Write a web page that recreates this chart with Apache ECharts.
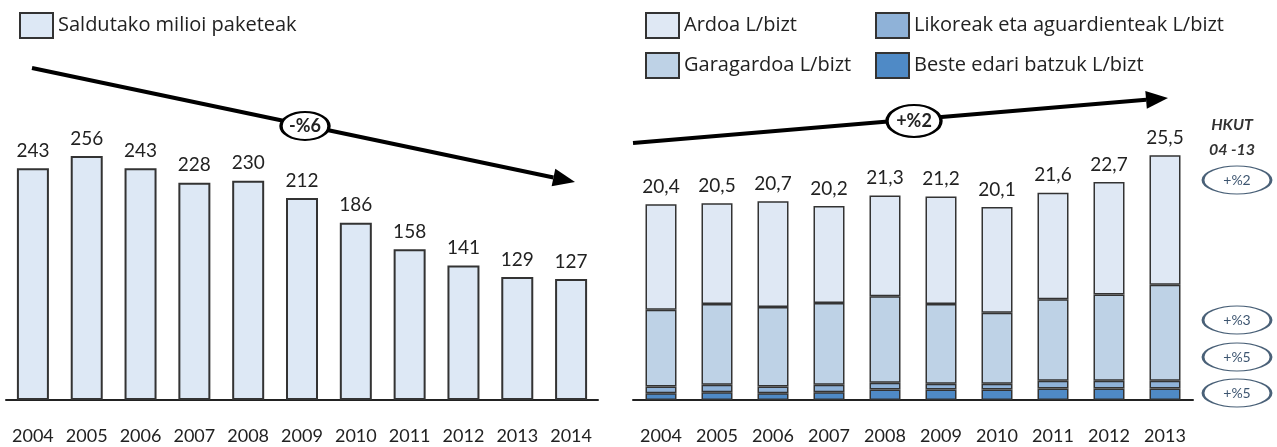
<!DOCTYPE html>
<html>
<head>
<meta charset="utf-8">
<script src="https://cdn.jsdelivr.net/npm/echarts@6/dist/echarts.min.js"></script>
<style>
  html, body { margin: 0; padding: 0; background: #fff; }
  #renderChart { width: 1277px; height: 447px; }
</style>
</head>
<body>
<div id="renderChart"></div>
<script>
    // left chart: tobacco packs (millions)
    var years1 = ['2004', '2005', '2006', '2007', '2008', '2009', '2010', '2011', '2012', '2013', '2014'];
    var packs = [243, 256, 243, 228, 230, 212, 186, 158, 141, 129, 127];

    // right chart: litres per person, stacked
    var years2 = ['2004', '2005', '2006', '2007', '2008', '2009', '2010', '2011', '2012', '2013'];
    var beste = [0.7, 0.8, 0.7, 0.8, 1.1, 1.1, 1.1, 1.2, 1.2, 1.2];
    var likoreak = [0.7, 0.8, 0.7, 0.8, 0.7, 0.6, 0.6, 0.8, 0.8, 0.8];
    var garagardoa = [8.0, 8.4, 8.3, 8.5, 9.0, 8.3, 7.4, 8.5, 9.0, 10.0];
    var ardoa = [11.0, 10.5, 11.0, 10.1, 10.5, 11.2, 11.0, 11.1, 11.7, 13.5];
    var totals = [20.4, 20.5, 20.7, 20.2, 21.3, 21.2, 20.1, 21.6, 22.7, 25.5];

    var hkutLabels = ['+%2', '+%3', '+%5', '+%5'];

    var FONT = 'Lato';
    var LEG_FONT = 'Open Sans';
    var EDGE = '#333';

    function arrow(x1, y1, x2, y2) {
        var ang = Math.atan2(y2 - y1, x2 - x1);
        var len = 22, half = 9;
        var bx = x2 - len * Math.cos(ang), by = y2 - len * Math.sin(ang);
        var px = -Math.sin(ang) * half, py = Math.cos(ang) * half;
        return [
            { type: 'line', z: 5, shape: { x1: x1, y1: y1, x2: bx, y2: by }, style: { stroke: '#000', lineWidth: 4 } },
            { type: 'polygon', z: 5, shape: { points: [[x2, y2], [bx + px, by + py], [bx - px, by - py]] }, style: { fill: '#000' } }
        ];
    }

    function oval(cx, cy, rx, ry, txt, o) {
        return [
            { type: 'circle', z: 10, x: cx, y: cy, scaleX: rx / ry, shape: { cx: 0, cy: 0, r: ry },
              style: { fill: '#fff', stroke: o.stroke, lineWidth: o.lw, strokeNoScale: true } },
            { type: 'text', z: 11, x: cx, y: cy,
              style: { text: txt, fill: o.color, font: o.font, textAlign: 'center', textVerticalAlign: 'middle' } }
        ];
    }

    window.onload = function () {
        var myChart = echarts.init(document.getElementById('renderChart'));

        var graphics = [];
        graphics = graphics.concat(arrow(32, 68, 575, 182));
        graphics = graphics.concat(oval(305, 126, 24, 14, '-%6', { stroke: '#000', lw: 2, color: '#222', font: 'bold 18px ' + FONT }));
        graphics = graphics.concat(arrow(633, 143, 1168, 98));
        graphics = graphics.concat(oval(914, 121, 27, 16, '+%2', { stroke: '#000', lw: 2, color: '#222', font: 'bold 18px ' + FONT }));

        graphics.push({ type: 'text', x: 1232, y: 125, style: { text: 'HKUT', fill: '#333', font: 'italic bold 16px ' + FONT, textAlign: 'center', textVerticalAlign: 'middle' } });
        graphics.push({ type: 'text', x: 1232, y: 150, style: { text: '04 -13', fill: '#333', font: 'italic bold 16px ' + FONT, textAlign: 'center', textVerticalAlign: 'middle' } });
        var hkutY = [180, 320, 357, 393];
        hkutLabels.forEach(function (t, i) {
            graphics = graphics.concat(oval(1237, hkutY[i], 34, 14, t, { stroke: '#4a6178', lw: 1.2, color: '#3d5570', font: '14px ' + FONT }));
        });

        var legText = { fontSize: 20, color: '#222', fontFamily: LEG_FONT };

        var option = {
            animation: false,
            textStyle: { fontFamily: FONT },
            legend: [
                {
                    data: ['Saldutako milioi paketeak'],
                    icon: 'rect',
                    left: 14, top: 7,
                    itemWidth: 33, itemHeight: 25,
                    textStyle: legText
                },
                {
                    data: ['Ardoa L/bizt', 'Garagardoa L/bizt'],
                    icon: 'rect',
                    orient: 'vertical',
                    left: 640, top: 7, itemGap: 13,
                    itemWidth: 33, itemHeight: 25,
                    textStyle: legText
                },
                {
                    data: ['Likoreak eta aguardienteak L/bizt', 'Beste edari batzuk L/bizt'],
                    icon: 'rect',
                    orient: 'vertical',
                    left: 870, top: 7, itemGap: 13,
                    itemWidth: 33, itemHeight: 25,
                    textStyle: legText
                }
            ],
            grid: [
                { left: 6, right: 679, top: 114, bottom: 47 },
                { left: 633, right: 84, top: 112, bottom: 47 }
            ],
            xAxis: [
                {
                    type: 'category', gridIndex: 0, data: years1,
                    axisLine: { lineStyle: { color: '#222', width: 2 } },
                    axisTick: { show: false },
                    axisLabel: { interval: 0, margin: 27, fontSize: 18, color: '#222', fontFamily: FONT }
                },
                {
                    type: 'category', gridIndex: 1, data: years2,
                    axisLine: { lineStyle: { color: '#222', width: 2 } },
                    axisTick: { show: false },
                    axisLabel: { interval: 0, margin: 27, fontSize: 18, color: '#222', fontFamily: FONT }
                }
            ],
            yAxis: [
                { type: 'value', gridIndex: 0, min: 0, max: 300, show: false },
                { type: 'value', gridIndex: 1, min: 0, max: 30, show: false }
            ],
            series: [
                {
                    name: 'Saldutako milioi paketeak', type: 'bar',
                    xAxisIndex: 0, yAxisIndex: 0, barWidth: 32,
                    data: packs,
                    itemStyle: { color: '#dde8f5', borderColor: EDGE, borderWidth: 2 },
                    label: { show: true, position: 'top', distance: 8, fontSize: 19, color: '#222', fontFamily: FONT }
                },
                {
                    name: 'Beste edari batzuk L/bizt', type: 'bar', stack: 'l',
                    xAxisIndex: 1, yAxisIndex: 1, barWidth: 31,
                    data: beste,
                    itemStyle: { color: '#4f8ac6', borderColor: EDGE, borderWidth: 1.5 }
                },
                {
                    name: 'Likoreak eta aguardienteak L/bizt', type: 'bar', stack: 'l',
                    xAxisIndex: 1, yAxisIndex: 1, barWidth: 31,
                    data: likoreak,
                    itemStyle: { color: '#8fb2d8', borderColor: EDGE, borderWidth: 1.5 }
                },
                {
                    name: 'Garagardoa L/bizt', type: 'bar', stack: 'l',
                    xAxisIndex: 1, yAxisIndex: 1, barWidth: 31,
                    data: garagardoa,
                    itemStyle: { color: '#bed2e6', borderColor: EDGE, borderWidth: 1.5 }
                },
                {
                    name: 'Ardoa L/bizt', type: 'bar', stack: 'l',
                    xAxisIndex: 1, yAxisIndex: 1, barWidth: 31,
                    data: ardoa,
                    itemStyle: { color: '#dfe8f4', borderColor: EDGE, borderWidth: 1.5 },
                    label: {
                        show: true, position: 'top', distance: 8, fontSize: 19, color: '#222', fontFamily: FONT,
                        formatter: function (p) { return totals[p.dataIndex].toFixed(1).replace('.', ','); }
                    }
                }
            ],
            graphic: graphics
        };

        myChart.setOption(option);
    };
</script>
</body>
</html>
